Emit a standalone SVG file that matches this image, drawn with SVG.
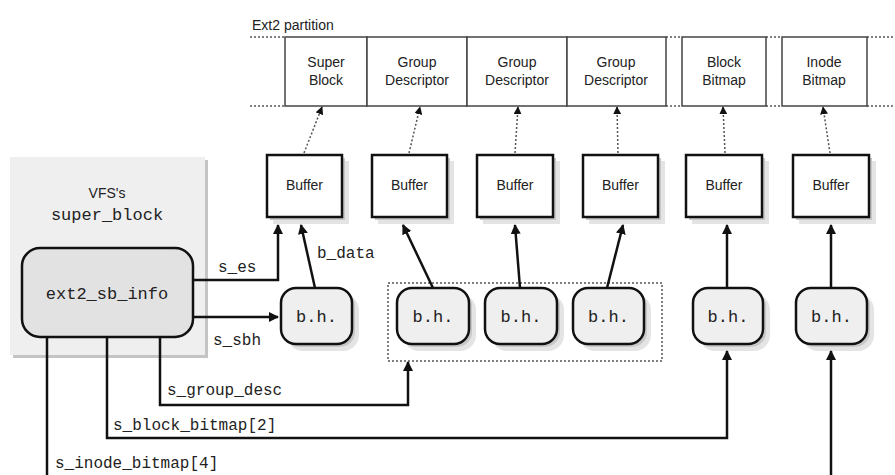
<svg xmlns="http://www.w3.org/2000/svg" width="895" height="475" viewBox="0 0 895 475">
<style>
.sans{font-family:"Liberation Sans",Arial,sans-serif;font-size:14px;fill:#222;text-anchor:middle}
.mono{font-family:"Liberation Mono","DejaVu Sans Mono",monospace;font-size:16px;fill:#222}
.mid{text-anchor:middle}
.part{fill:#fff;stroke:#444;stroke-width:1.5}
.dotl{stroke:#555;stroke-width:1.5;stroke-dasharray:2 2;fill:none}
.buf{fill:#fff;stroke:#111;stroke-width:2.5}
.bh{fill:#efefef;stroke:#111;stroke-width:2.5}
.con{fill:none;stroke:#111;stroke-width:2.5}
</style>
<defs>
<marker id="ah" markerWidth="10" markerHeight="10" viewBox="0 0 10 10" refX="9" refY="5" orient="auto" markerUnits="userSpaceOnUse">
<path d="M0,0 L10,5 L0,10 Z" fill="#111"/>
</marker>
<marker id="ahs" markerWidth="8" markerHeight="8" viewBox="0 0 10 10" refX="9" refY="5" orient="auto" markerUnits="userSpaceOnUse">
<path d="M0,0 L10,5 L0,10 Z" fill="#111"/>
</marker>
<rect id="bufsh" width="76" height="63" fill="#e2e2e2"/>
</defs>

<g id="partition">
<text class="sans" x="252" y="30" style="text-anchor:start">Ext2 partition</text>
<path class="dotl" d="M250,37 H285 M250,106 H285 M666,37 H682 M666,106 H682 M766,37 H782 M766,106 H782 M867,37 H895 M867,106 H895"/>
<g id="p-superblock"><rect class="part" x="285" y="37" width="82" height="69"/><text class="sans" x="326" y="67">Super</text><text class="sans" x="326" y="85">Block</text></g>
<g id="p-gd1"><rect class="part" x="367" y="37" width="100" height="69"/><text class="sans" x="417" y="67">Group</text><text class="sans" x="417" y="85">Descriptor</text></g>
<g id="p-gd2"><rect class="part" x="467" y="37" width="100" height="69"/><text class="sans" x="517" y="67">Group</text><text class="sans" x="517" y="85">Descriptor</text></g>
<g id="p-gd3"><rect class="part" x="567" y="37" width="99" height="69"/><text class="sans" x="616" y="67">Group</text><text class="sans" x="616" y="85">Descriptor</text></g>
<g id="p-bb"><rect class="part" x="682" y="37" width="84" height="69"/><text class="sans" x="724" y="67">Block</text><text class="sans" x="724" y="85">Bitmap</text></g>
<g id="p-ib"><rect class="part" x="782" y="37" width="85" height="69"/><text class="sans" x="824" y="67">Inode</text><text class="sans" x="824" y="85">Bitmap</text></g>
</g>

<g id="vfs-super-block">
<rect x="13" y="160" width="195" height="198" fill="#c4c4c4"/>
<rect x="10" y="157" width="195" height="198" fill="#efefef"/>
<text class="sans" x="107" y="198">VFS's</text>
<text class="mono mid" x="107" y="220" style="font-size:17px">super_block</text>
</g>
<g id="ext2-sb-info">
<rect x="22" y="248" width="171" height="89" rx="18" fill="#e2e2e2" stroke="#111" stroke-width="2.5"/>
<text class="mono mid" x="107" y="299" style="font-size:17px">ext2_sb_info</text>
</g>

<g id="buffer1"><rect x="273" y="161" width="76" height="63" fill="#e4e4e4"/><rect x="270" y="158" width="75" height="62" fill="#c8c8c8"/><rect class="buf" x="267" y="155" width="75" height="62"/><text class="sans" x="304.5" y="190">Buffer</text></g>
<g id="buffer2"><rect x="378" y="161" width="76" height="63" fill="#e4e4e4"/><rect x="375" y="158" width="75" height="62" fill="#c8c8c8"/><rect class="buf" x="372" y="155" width="75" height="62"/><text class="sans" x="409.5" y="190">Buffer</text></g>
<g id="buffer3"><rect x="483" y="161" width="77" height="63" fill="#e4e4e4"/><rect x="480" y="158" width="76" height="62" fill="#c8c8c8"/><rect class="buf" x="477" y="155" width="76" height="62"/><text class="sans" x="515" y="190">Buffer</text></g>
<g id="buffer4"><rect x="589" y="161" width="76" height="63" fill="#e4e4e4"/><rect x="586" y="158" width="75" height="62" fill="#c8c8c8"/><rect class="buf" x="583" y="155" width="75" height="62"/><text class="sans" x="620.5" y="190">Buffer</text></g>
<g id="buffer5"><rect x="692" y="161" width="77" height="63" fill="#e4e4e4"/><rect x="689" y="158" width="76" height="62" fill="#c8c8c8"/><rect class="buf" x="686" y="155" width="76" height="62"/><text class="sans" x="724" y="190">Buffer</text></g>
<g id="buffer6"><rect x="799" y="161" width="77" height="63" fill="#e4e4e4"/><rect x="796" y="158" width="76" height="62" fill="#c8c8c8"/><rect class="buf" x="793" y="155" width="76" height="62"/><text class="sans" x="831" y="190">Buffer</text></g>

<rect id="bh-group" x="388" y="283" width="274" height="78" class="dotl"/>

<g id="bh1"><rect x="287" y="294" width="72" height="57" rx="16" fill="#e4e4e4"/><rect x="284" y="291" width="71" height="56" rx="15" fill="#c8c8c8"/><rect class="bh" x="281" y="288" width="71" height="56" rx="15"/><text class="mono mid" x="316.5" y="322" style="font-size:17px">b.h.</text></g>
<g id="bh2"><rect x="403" y="294" width="73" height="57" rx="16" fill="#e4e4e4"/><rect x="400" y="291" width="72" height="56" rx="15" fill="#c8c8c8"/><rect class="bh" x="397" y="288" width="72" height="56" rx="15"/><text class="mono mid" x="433" y="322" style="font-size:17px">b.h.</text></g>
<g id="bh3"><rect x="491" y="294" width="73" height="57" rx="16" fill="#e4e4e4"/><rect x="488" y="291" width="72" height="56" rx="15" fill="#c8c8c8"/><rect class="bh" x="485" y="288" width="72" height="56" rx="15"/><text class="mono mid" x="521" y="322" style="font-size:17px">b.h.</text></g>
<g id="bh4"><rect x="579" y="294" width="72" height="57" rx="16" fill="#e4e4e4"/><rect x="576" y="291" width="71" height="56" rx="15" fill="#c8c8c8"/><rect class="bh" x="573" y="288" width="71" height="56" rx="15"/><text class="mono mid" x="608.5" y="322" style="font-size:17px">b.h.</text></g>
<g id="bh5"><rect x="699" y="294" width="71" height="57" rx="16" fill="#e4e4e4"/><rect x="696" y="291" width="70" height="56" rx="15" fill="#c8c8c8"/><rect class="bh" x="693" y="288" width="70" height="56" rx="15"/><text class="mono mid" x="728" y="322" style="font-size:17px">b.h.</text></g>
<g id="bh6"><rect x="802" y="294" width="72" height="57" rx="16" fill="#e4e4e4"/><rect x="799" y="291" width="71" height="56" rx="15" fill="#c8c8c8"/><rect class="bh" x="796" y="288" width="71" height="56" rx="15"/><text class="mono mid" x="831.5" y="322" style="font-size:17px">b.h.</text></g>

<g id="connectors">
<path class="dotl" marker-end="url(#ahs)" d="M304,153 L322,107"/>
<path class="dotl" marker-end="url(#ahs)" d="M409,153 L420,107"/>
<path class="dotl" marker-end="url(#ahs)" d="M515,153 L518,107"/>
<path class="dotl" marker-end="url(#ahs)" d="M618,153 L617,107"/>
<path class="dotl" marker-end="url(#ahs)" d="M725,153 L723,107"/>
<path class="dotl" marker-end="url(#ahs)" d="M830,153 L823,107"/>

<path class="con" marker-end="url(#ah)" d="M193,280 H278 V225"/>
<path class="con" marker-end="url(#ah)" d="M315,288 L301,225"/>
<path class="con" marker-end="url(#ah)" d="M193,317 H278"/>
<path class="con" marker-end="url(#ah)" d="M433,288 L403,225"/>
<path class="con" marker-end="url(#ah)" d="M520,288 L515,225"/>
<path class="con" marker-end="url(#ah)" d="M607,288 L623,225"/>
<path class="con" marker-end="url(#ah)" d="M727,288 V225"/>
<path class="con" marker-end="url(#ah)" d="M831,288 V225"/>

<path class="con" marker-end="url(#ah)" d="M160,337 V405 H408 V362"/>
<path class="con" marker-end="url(#ah)" d="M107,337 V438 H727 V351"/>
<path class="con" d="M47,337 V480"/>
<path class="con" marker-end="url(#ah)" d="M831,480 V351"/>

<text class="mono" x="218" y="272">s_es</text>
<text class="mono" x="317" y="258">b_data</text>
<text class="mono" x="213" y="345">s_sbh</text>
<text class="mono" x="167" y="395">s_group_desc</text>
<text class="mono" x="113" y="430">s_block_bitmap[2]</text>
<text class="mono" x="55" y="468">s_inode_bitmap[4]</text>
</g>
</svg>
